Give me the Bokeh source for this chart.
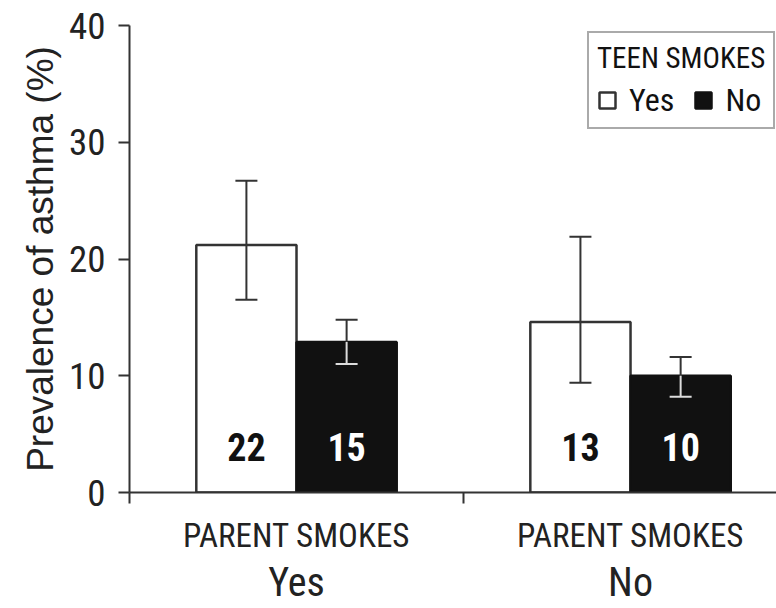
from bokeh.plotting import figure
from bokeh.models import (Range1d, LinearAxis, FixedTicker, ColumnDataSource,
                          Whisker, TeeHead, Legend, LegendItem)
from bokeh.core.properties import value
from bokeh.embed import file_html
from bokeh.resources import INLINE

# ---- data ----
parent_smokes = ["Yes", "No"]
teen_smokes = ["Yes", "No"]
prev_teen_yes = [21.2, 14.6]
prev_teen_no = [12.9, 10.0]
lower_teen_yes = [16.5, 9.4]
upper_teen_yes = [26.7, 21.9]
lower_teen_no = [11.0, 8.2]
upper_teen_no = [14.8, 11.6]
n_teen_yes = ["22", "13"]
n_teen_no = ["15", "10"]
y_ticks = [0, 10, 20, 30, 40]
group_label = "PARENT SMOKES"
legend_title = "TEEN SMOKES"
y_label = "Prevalence of asthma (%)"

NAR = "Roboto Condensed"
REG = "Liberation Sans"
AX = "#333333"

# positions from category index
centers = [i + 0.5 for i in range(len(parent_smokes))]
bar_w = 0.3
x_yes = [c - bar_w / 2 for c in centers]
x_no = [c + bar_w / 2 for c in centers]

p = figure(width=776, height=608, output_backend="svg", toolbar_location=None,
           x_range=Range1d(0, 1.937), y_range=Range1d(0, 40),
           x_axis_type=None, min_border_left=129, min_border_right=0,
           min_border_top=25, min_border_bottom=116)
p.outline_line_color = None
p.xgrid.visible = False
p.ygrid.visible = False
p.background_fill_color = "white"
p.border_fill_color = "white"

# y axis
ya = p.yaxis[0]
ya.ticker = FixedTicker(ticks=y_ticks)
ya.axis_line_color = AX
ya.axis_line_width = 2
ya.major_tick_line_color = AX
ya.major_tick_line_width = 2
ya.major_tick_out = 11
ya.major_tick_in = 0
ya.minor_tick_line_color = None
ya.major_label_text_font = NAR
ya.major_label_text_font_size = "37px"
ya.major_label_text_color = "#222222"
ya.major_label_standoff = 13
ya.axis_label = y_label
ya.axis_label_text_font = REG
ya.axis_label_text_font_size = "37px"
ya.axis_label_text_font_style = "normal"
ya.axis_label_text_color = "#222222"
ya.axis_label_standoff = 5

# x axis: line, boundary ticks (minor) and group labels
xa = LinearAxis(ticker=FixedTicker(ticks=centers, minor_ticks=[0, 1, 2]),
                major_label_overrides={c: group_label for c in centers})
xa.axis_line_color = AX
xa.axis_line_width = 2
xa.major_tick_line_color = None
xa.major_tick_out = 0
xa.major_tick_in = 0
xa.minor_tick_line_color = AX
xa.minor_tick_line_width = 2
xa.minor_tick_out = 11
xa.minor_tick_in = 0
xa.major_label_text_font = NAR
xa.major_label_text_font_size = "33px"
xa.major_label_text_color = "#222222"
xa.major_label_standoff = 12
p.add_layout(xa, "below")

# parent-smokes category names under the group labels
xb = LinearAxis(ticker=FixedTicker(ticks=centers, minor_ticks=[]),
                major_label_overrides={c: lab for c, lab in zip(centers, parent_smokes)})
xb.axis_line_color = None
xb.major_tick_line_color = None
xb.minor_tick_line_color = None
xb.major_tick_out = 0
xb.major_tick_in = 0
xb.major_label_text_font = NAR
xb.major_label_text_font_size = "40px"
xb.major_label_text_color = "#222222"
xb.major_label_standoff = 1
p.add_layout(xb, "below")

# bars
src_yes = ColumnDataSource(dict(x=x_yes, top=prev_teen_yes, lower=lower_teen_yes,
                                upper=upper_teen_yes, n=n_teen_yes))
src_no = ColumnDataSource(dict(x=x_no, top=prev_teen_no, lower=lower_teen_no,
                               upper=upper_teen_no, n=n_teen_no))

r_yes = p.vbar(x="x", top="top", bottom=0, width=bar_w, source=src_yes,
               fill_color="white", line_color=AX, line_width=2.5)
r_no = p.vbar(x="x", top="top", bottom=0, width=bar_w, source=src_no,
              fill_color="#111111", line_color="#111111", line_width=2.5)

# error bars
p.add_layout(Whisker(base="x", upper="upper", lower="lower", source=src_yes,
                     line_color=AX, line_width=2, level="annotation",
                     upper_head=TeeHead(size=22, line_color=AX, line_width=2),
                     lower_head=TeeHead(size=22, line_color=AX, line_width=2)))
p.add_layout(Whisker(base="x", upper="upper", lower="top", source=src_no,
                     line_color=AX, line_width=2, level="annotation",
                     upper_head=TeeHead(size=22, line_color=AX, line_width=2),
                     lower_head=None))
p.add_layout(Whisker(base="x", upper="top", lower="lower", source=src_no,
                     line_color="#dddddd", line_width=2, level="annotation",
                     upper_head=None,
                     lower_head=TeeHead(size=22, line_color="#dddddd", line_width=2)))

# n labels inside bars
p.text(x="x", y=0, text="n", source=src_yes, text_font=value(NAR),
       text_font_style="bold", text_font_size="38px", text_color="#111111",
       text_align="center", text_baseline="middle", y_offset=-46)
p.text(x="x", y=0, text="n", source=src_no, text_font=value(NAR),
       text_font_style="bold", text_font_size="38px", text_color="white",
       text_align="center", text_baseline="middle", y_offset=-46)

# legend
legend = Legend(items=[LegendItem(label=teen_smokes[0], renderers=[r_yes]),
                       LegendItem(label=teen_smokes[1], renderers=[r_no])],
                title=legend_title, orientation="horizontal", location=(458, 363),
                border_line_color="#555555", border_line_width=2,
                background_fill_color="white", background_fill_alpha=1,
                padding=8, spacing=19, margin=0,
                glyph_width=20, glyph_height=20, label_standoff=12,
                title_text_font=NAR, title_text_font_size="29px",
                title_text_font_style="normal", title_text_color="#111111",
                title_standoff=6,
                label_text_font=NAR, label_text_font_size="32px",
                label_text_color="#111111")
p.add_layout(legend)

open("out.html", "w").write(file_html(p, INLINE))
